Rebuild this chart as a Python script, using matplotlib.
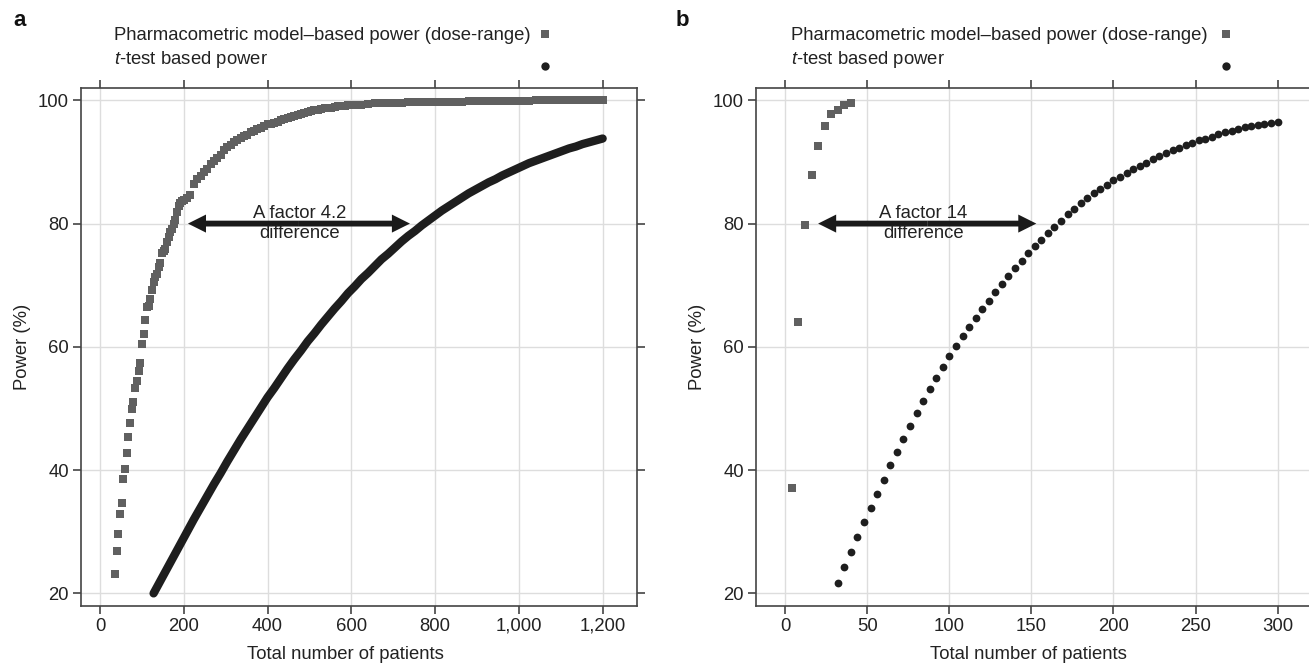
import matplotlib
matplotlib.use("Agg")
import matplotlib.pyplot as plt
from matplotlib.lines import Line2D

plt.rcParams['font.family'] = ['Liberation Sans', 'DejaVu Sans']
plt.rcParams['mathtext.fontset'] = 'custom'
plt.rcParams['mathtext.rm'] = 'Liberation Sans'
plt.rcParams['mathtext.it'] = 'Liberation Sans:italic'

# ---------------- data ----------------
legend_labels = ["Pharmacometric model\u2013based power (dose-range)", "$\\mathit{t}$-test based power"]
x_label = "Total number of patients"
y_label = "Power (%)"

# Panel a: model-based power (squares)
a_model_n = list(range(36, 201, 4)) + list(range(208, 601, 8)) + list(range(608, 1201, 16))
a_model_p = [
    23.1, 26.8, 29.6, 32.8, 34.6, 38.5, 40.2, 42.8, 45.4, 47.7,
    49.9, 51.0, 53.4, 54.5, 56.1, 57.4, 60.5, 62.1, 64.4, 66.5,
    66.6, 67.8, 69.2, 70.5, 71.3, 71.9, 73.0, 73.6, 75.3, 75.6,
    75.9, 77.0, 77.8, 78.6, 79.2, 79.9, 80.6, 81.9, 82.8, 83.3,
    83.6, 83.9,
    84.2, 84.6, 86.5, 87.2, 87.8, 88.3, 88.9, 89.6, 90.1, 90.6,
    91.2, 91.9, 92.4, 92.7, 93.2, 93.5, 93.9, 94.2, 94.4, 94.8,
    95.1, 95.4, 95.5, 95.8, 96.1, 96.2, 96.4, 96.5, 96.8, 97.0,
    97.2, 97.3, 97.5, 97.7, 97.8, 97.9, 98.1, 98.2, 98.4, 98.5,
    98.6, 98.7, 98.8, 98.8, 98.9, 99.0, 99.0, 99.1, 99.2, 99.2,
    99.2, 99.3, 99.4, 99.5, 99.5, 99.6, 99.6, 99.6, 99.7, 99.7,
    99.7, 99.7, 99.8, 99.8, 99.8, 99.8, 99.8, 99.9, 99.9, 99.9,
    99.9, 99.9, 99.9, 99.9, 99.9, 99.9, 99.9, 100.0, 100.0, 100.0,
    100.0, 100.0, 100.0, 100.0, 100.0, 100.0, 100.0, 100.0,
]
# Panel a: t-test based power (dense circles)
a_ttest_n = list(range(128, 1201, 16))
a_ttest_p = [
    20.0, 22.0, 24.0, 26.0, 28.0, 30.0, 32.0, 33.9, 35.8, 37.7,
    39.5, 41.4, 43.2, 45.0, 46.7, 48.4, 50.1, 51.8, 53.3, 54.9,
    56.5, 58.0, 59.4, 60.9, 62.2, 63.6, 64.9, 66.2, 67.4, 68.7,
    69.8, 71.0, 72.0, 73.1, 74.2, 75.1, 76.1, 77.1, 78.0, 78.8,
    79.7, 80.5, 81.3, 82.1, 82.8, 83.5, 84.2, 84.9, 85.5, 86.1,
    86.7, 87.2, 87.8, 88.3, 88.8, 89.3, 89.8, 90.2, 90.6, 91.0,
    91.4, 91.8, 92.2, 92.5, 92.9, 93.2, 93.5, 93.8,
]
a_xticks = [0, 200, 400, 600, 800, 1000, 1200]
a_xticklabels = ["0", "200", "400", "600", "800", "1,000", "1,200"]
a_arrow = (210, 740, 80)          # left tip, right tip, level
a_note = "A factor 4.2\ndifference"
a_note_x = 477

# Panel b
b_model_n = list(range(4, 41, 4))
b_model_p = [37.1, 64.0, 79.8, 87.9, 92.6, 95.9, 97.8, 98.4, 99.2, 99.5]
b_ttest_n = list(range(32, 301, 4))
b_ttest_p = [
    21.7, 24.2, 26.7, 29.1, 31.5, 33.8, 36.1, 38.4, 40.8, 42.9,
    45.0, 47.1, 49.3, 51.2, 53.1, 54.9, 56.7, 58.5, 60.1, 61.7,
    63.2, 64.7, 66.1, 67.5, 68.9, 70.2, 71.5, 72.8, 74.0, 75.2,
    76.3, 77.4, 78.5, 79.5, 80.5, 81.5, 82.4, 83.3, 84.1, 84.9,
    85.6, 86.3, 87.0, 87.6, 88.2, 88.8, 89.4, 89.9, 90.5, 91.0,
    91.4, 91.9, 92.3, 92.7, 93.1, 93.5, 93.8, 94.1, 94.5, 94.8,
    95.0, 95.3, 95.6, 95.8, 96.0, 96.2, 96.4, 96.5,
]
b_xticks = [0, 50, 100, 150, 200, 250, 300]
b_xticklabels = ["0", "50", "100", "150", "200", "250", "300"]
b_arrow = (20, 153, 80)
b_note = "A factor 14\ndifference"
b_note_x = 84

yticks = [20, 40, 60, 80, 100]

# ---------------- style ----------------
W, H = 1309, 664
FS = 13.3
SQ_COLOR = '#606060'
CI_COLOR = '#1e1e1e'
SPINE = '#444444'
TXT = '#222222'

fig = plt.figure(figsize=(W / 100, H / 100), dpi=100)

def px(x, y):
    return x / W, 1 - y / H

bottom = 1 - 605.7 / H
height = (605.7 - 88) / H
ax_a = fig.add_axes([80.7 / W, bottom, (637 - 80.7) / W, height])
ax_b = fig.add_axes([756 / W, bottom, (1312 - 756) / W, height])


def style(ax, xlim, xticks, xticklabels):
    ax.set_xlim(*xlim)
    ax.set_ylim(18, 102)
    ax.set_xticks(xticks)
    ax.set_xticklabels(xticklabels)
    ax.set_yticks(yticks)
    ax.grid(True, color='#dddddd', lw=1.0, zorder=0)
    ax.set_axisbelow(True)
    for s in ax.spines.values():
        s.set_color(SPINE)
        s.set_linewidth(1.2)
    ax.tick_params(axis='both', which='both', direction='out', length=5.6, width=1.2,
                   color=SPINE, labelsize=FS, labelcolor=TXT, pad=3,
                   top=True, right=True, labeltop=False, labelright=False)
    ax.set_xlabel(x_label, fontsize=FS, color=TXT)
    ax.set_ylabel(y_label, fontsize=FS, color=TXT, labelpad=5)


def arrow(ax, left, right, level):
    mid = (left + right) / 2
    style_ = 'simple,head_length=1.3,head_width=1.3,tail_width=0.42'
    for tip in (left, right):
        ax.annotate('', xy=(tip, level), xytext=(mid, level),
                    arrowprops=dict(arrowstyle=style_, mutation_scale=10, lw=0,
                                    color='#1a1a1a', shrinkA=0, shrinkB=0),
                    zorder=5)


# Panel a
style(ax_a, (-46, 1282), a_xticks, a_xticklabels)
ax_a.plot(a_ttest_n, a_ttest_p, '-', color=CI_COLOR, lw=6, solid_capstyle='round', zorder=3)
ax_a.plot(a_model_n, a_model_p, 's', color=SQ_COLOR, ms=5.3, mew=0, zorder=4)
arrow(ax_a, *a_arrow)
ax_a.text(a_note_x, a_arrow[2], a_note, ha='center', va='center', fontsize=FS,
          color=TXT, linespacing=1.2, zorder=6)
ax_a.xaxis.set_label_coords(0.475, -0.078)

# Panel b
style(ax_b, (-17.85, 321), b_xticks, b_xticklabels)
ax_b.plot(b_ttest_n, b_ttest_p, 'o', color=CI_COLOR, ms=5.6, mew=0, zorder=3)
ax_b.plot(b_model_n, b_model_p, 's', color=SQ_COLOR, ms=5.3, mew=0, zorder=4)
arrow(ax_b, *b_arrow)
ax_b.text(b_note_x, b_arrow[2], b_note, ha='center', va='center', fontsize=FS,
          color=TXT, linespacing=1.2, zorder=6)
ax_b.xaxis.set_label_coords(0.49, -0.078)

# Panel letters and legends
for letter, lx, tx, mx in (("a", 13, 114, 545), ("b", 676, 791, 1226)):
    fig.text(*px(lx, 20), letter, fontsize=16, fontweight='bold', color='#111111',
             ha='left', va='center')
    fig.text(*px(tx, 40), legend_labels[0], fontsize=FS, color=TXT, ha='left', va='baseline')
    fig.text(*px(tx, 64), legend_labels[1], fontsize=FS, color=TXT, ha='left', va='baseline')
    fig.add_artist(Line2D([mx / W], [1 - 33.5 / H], marker='s', ms=5.3, mew=0,
                          color=SQ_COLOR, transform=fig.transFigure))
    fig.add_artist(Line2D([mx / W], [1 - 65.5 / H], marker='o', ms=6, mew=0,
                          color=CI_COLOR, transform=fig.transFigure))

fig.savefig("out.png", dpi=100)
